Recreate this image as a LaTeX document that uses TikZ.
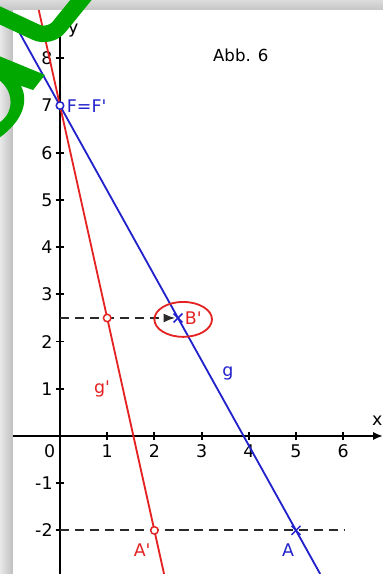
\documentclass[tikz,border=0pt]{standalone}
\usepackage{fontspec}
\setmainfont{DejaVu Sans}
\usepackage{tikz}
\usetikzlibrary{arrows.meta,shapes.misc}
\definecolor{gblue}{HTML}{2222CC}
\definecolor{gred}{HTML}{E42222}
\definecolor{wgreen}{HTML}{00A800}
\definecolor{dashgray}{HTML}{2A2A2A}

\begin{document}
\begin{tikzpicture}[x=1cm,y=1cm, every node/.style={font=\fontsize{10.5}{12}\selectfont},
    axis/.style={line width=1.4pt,-{Latex[length=6pt,width=5pt]}},
    ptcirc/.style={circle,fill=white,line width=0.9pt,inner sep=0,minimum size=4.5pt},
    ptcross/.style={cross out,draw=gblue,line width=0.9pt,inner sep=0,minimum size=4.5pt},
    ptlabel/.style={inner sep=0,font=\fontsize{10.5}{12}\selectfont},
    helpline/.style={dashgray,line width=1.1pt,dash pattern=on 5.5pt off 3.5pt}]
    \useasboundingbox (-1.271,-2.924) rectangle (6.843,9.237);
    \fill[white] (-1.271,-2.924) rectangle (6.843,9.237);
    \shade[left color=gray!18,right color=gray!50] (-1.271,-2.924) rectangle (-0.996,9.237);
    \shade[top color=gray!28,bottom color=gray!45] (-1.271,9.025) rectangle (6.843,9.237);
    \coordinate (xl) at (-0.996,0); \coordinate (xr) at (6.843,0);
    \coordinate (yb) at (0,-2.924); \coordinate (yt) at (0,8.98);
    \draw[axis] (xl) -- (xr); \draw[axis] (yb) -- (yt);
    \foreach \k in {1,...,6} {
      \draw[line width=1.1pt] (\k,-0.09) -- (\k,0.09);
      \node (xt\k) at (\k,-0.32) {\k};
    }
    \foreach \k in {-2,-1,1,2,3,4,5,6,7,8} {
      \draw[line width=1.1pt] (-0.09,\k) -- (0.09,\k);
      \node[anchor=east,inner sep=0] (yt\k) at (-0.15,\k) {\k};
    }
    \node (o) at (-0.22,-0.32) {0};
    \node (xlab) at (6.72,0.32) {x};
    \node (ylab) at (0.28,8.58) {y};
    \node[font=\fontsize{10}{12}\selectfont] (abb) at (3.83,8.07) {Abb. 6};
    \coordinate (gtop) at (-0.996,8.793); \coordinate (gbot) at (5.513,-2.924);
    \coordinate (htop) at (-0.45,9.025); \coordinate (hbot) at (2.205,-2.924);
    \draw[gblue,line width=1.1pt] (gtop) -- (gbot);
    \draw[gred,line width=1.1pt] (htop) -- (hbot);
    \coordinate (ya) at (0,2.5); \coordinate (yc) at (0,-2);
    \coordinate (arr) at (2.44,2.5); \coordinate (dend) at (6.04,-2);
    \draw[helpline,-{Latex[length=7pt,width=5.5pt]}] (ya) -- (arr);
    \draw[helpline] (yc) -- (dend);
    \draw[gred,line width=1.1pt] (2.61,2.47) ellipse [x radius=0.61,y radius=0.37];
    \node[ptcirc,draw=gblue] (F) at (0,7) {};
    \node[ptcirc,draw=gred] (P) at (1,2.5) {};
    \node[ptcirc,draw=gred] (Ap) at (2,-2) {};
    \node[ptcross] (Bp) at (2.5,2.5) {};
    \node[ptcross] (A) at (5,-2) {};
    \node[ptlabel,text=gblue,anchor=west] (Flab) at (0.14,6.98) {F=F\textquotesingle};
    \node[ptlabel,text=gred,anchor=west] (Bplab) at (2.64,2.49) {B\textquotesingle};
    \node[ptlabel,text=gblue] (glab) at (3.56,1.33) {g};
    \node[ptlabel,text=gred] (gplab) at (0.89,1.0) {g\textquotesingle};
    \node[ptlabel,text=gred] (Aplab) at (1.74,-2.42) {A\textquotesingle};
    \node[ptlabel,text=gblue] (Alab) at (4.83,-2.42) {A};
    \draw[wgreen,line width=10pt,rounded corners=9pt] (-1.38,8.96) -- (-0.22,8.42) -- (0.56,9.38);
    \fill[wgreen] (-1.34,8.07) -- (-0.32,7.65) -- (-0.57,7.33) -- (-0.83,7.42)
      .. controls (-0.68,7.15) and (-0.72,6.70) .. (-1.34,6.28) -- (-1.34,6.61)
      .. controls (-0.98,6.78) and (-0.92,7.30) .. (-1.34,7.58) -- cycle;
\end{tikzpicture}
\end{document}
